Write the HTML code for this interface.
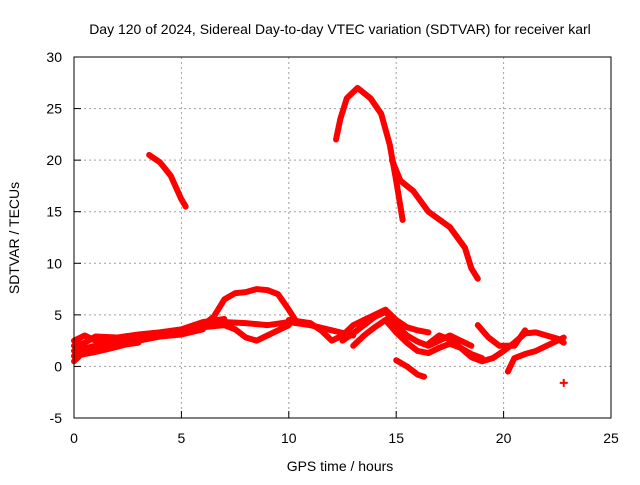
<!DOCTYPE html>
<html><head><meta charset="utf-8"><style>
body{margin:0;background:#fff}
svg text{font-family:"Liberation Sans",sans-serif;font-size:14px;fill:#000}
</style></head><body>
<svg id="chart" width="640" height="480">
<text x="340" y="34" text-anchor="middle">Day 120 of 2024, Sidereal Day-to-day VTEC variation (SDTVAR) for receiver karl</text>
<text x="340" y="471" text-anchor="middle">GPS time / hours</text>
<text transform="translate(19,238) rotate(-90)" text-anchor="middle">SDTVAR / TECUs</text>
<g id="grid"></g><g id="ticks"></g><g id="series"></g>
<rect x="74" y="57" width="537" height="361" fill="none" stroke="#000"/>
</svg>
<script>
const xTicks=[0,5,10,15,20,25];
const yTicks=[-5,0,5,10,15,20,25,30];
const trackA=[[3.5,20.5],[4,19.8],[4.5,18.5],[5,16.2],[5.2,15.5]];
const trackB=[[12.2,22],[12.4,24],[12.7,26],[13.2,27],[13.8,26],[14.3,24.5],[14.7,21.5],[15,18],[15.3,14.2]];
const trackC=[[14.8,20],[15.2,18],[15.8,17],[16.5,15],[17.5,13.5],[18.2,11.5],[18.5,9.5],[18.8,8.5]];
const trackD=[[5,3.3],[6,4],[6.5,4.8],[7,6.5],[7.5,7.1],[8,7.2],[8.5,7.5],[9,7.4],[9.5,7],[10,5.5],[10.3,4.5]];
const trackE=[[0,1.5],[1,2],[2,2.3],[3,2.7],[4,3],[5,3.3],[6,4],[7,4.3],[8,4.2],[9,4],[10,4.3],[11,4],[12,3.5],[13,3]];
const trackF=[[0,2.5],[0.5,3],[1,2.5],[2,2.5],[3,3],[4,3.2],[5,3.5],[6,3.8],[7,4]];
const trackG=[[0,0.5],[0.5,1.5],[1,1.8],[2,2],[3,2.3]];
const trackG2=[[0,1],[1,1.4],[2,1.9],[3,2.5],[4,2.9],[5,3.1],[6,3.6]];
const trackG3=[[0,2],[0.5,2.3],[1,2.9],[2,2.8],[3,3.1],[4,3.3],[5,3.6],[6,4.3],[7,4.6]];
const trackH=[[7,4],[7.5,3.6],[8,2.8],[8.5,2.5],[9,3],[9.5,3.5],[10,4]];
const trackI=[[10,4.5],[11,4.2],[11.5,3.5],[12,2.5],[12.5,3],[13,4],[13.5,4.5],[14,5],[14.5,5.5],[15,4.5],[15.5,3.8],[16,3.5],[16.5,3.3]];
const trackJ=[[12.5,2.5],[13,3.2],[13.5,4],[14,4.8],[14.5,5.3],[15,4],[15.5,3],[16,2.4],[16.5,2],[17,2.5],[17.5,3],[18,2.5],[18.5,2]];
const trackK=[[13,2],[13.5,3],[14,3.8],[14.5,4.5],[15,3.3],[15.5,2.3],[16,1.5],[16.5,1.3],[17,1.8],[17.5,2.2],[18,1.8],[18.5,0.9],[19,0.5],[19.5,0.8],[20,1.5],[20.5,2.3],[21,3.2],[21.5,3.3],[22,3],[22.5,2.7],[22.8,2.3]];
const trackL=[[15,0.6],[15.5,0],[16,-0.8],[16.3,-1]];
const trackM=[[16.5,2.2],[17,3],[17.5,2.6],[18,1.8],[18.5,1.2],[19,0.8]];
const trackN=[[18.8,4],[19.3,2.8],[19.8,2],[20.5,2],[21,3.5]];
const trackO=[[20.2,-0.5],[20.5,0.8],[21,1.2],[21.5,1.5],[22,2],[22.5,2.5],[22.8,2.8]];
const trackP=[[22.8,-1.6]];
const tracks=[trackA,trackB,trackC,trackD,trackE,trackF,trackG,trackG2,trackG3,trackH,trackI,trackJ,trackK,trackL,trackM,trackN,trackO,trackP];
const X=v=>74+v*537/25, Y=v=>418-(v+5)*361/35;
const NS="http://www.w3.org/2000/svg";
const grid=document.getElementById('grid'),ticks=document.getElementById('ticks'),ser=document.getElementById('series');
function mk(tag,at,parent){const e=document.createElementNS(NS,tag);for(const k in at)e.setAttribute(k,at[k]);parent.appendChild(e);return e;}
xTicks.forEach(t=>{
 const g=mk('line',{x1:X(t),x2:X(t),y1:57,y2:418,stroke:'#a0a0a0','stroke-dasharray':'2,3'},grid);
 
 
 const k=mk('line',{x1:X(t),x2:X(t),y1:418,y2:411,stroke:'#000'},ticks);
 
 
 const l=mk('text',{x:X(t),y:443,'text-anchor':'middle'},ticks);l.textContent=t;
 
 
});
yTicks.forEach(t=>{
 const g=mk('line',{x1:74,x2:611,y1:Y(t),y2:Y(t),stroke:'#a0a0a0','stroke-dasharray':'2,3'},grid);
 
 
 const k=mk('line',{x1:74,x2:81,y1:Y(t),y2:Y(t),stroke:'#000'},ticks);
 
 
 const l=mk('text',{x:62,y:Y(t)+5,'text-anchor':'end'},ticks);l.textContent=t;
 
 
});
tracks.forEach(tr=>{
 if(tr.length===1){
  const x=X(tr[0][0]),y=Y(tr[0][1]);
  const p=mk('path',{d:`M${x-4},${y}H${x+4}M${x},${y-4}V${y+4}`,stroke:'#f00','stroke-width':2},ser);
  
  
  return;
 }
 const p=mk('polyline',{points:tr.map(d=>X(d[0])+','+Y(d[1])).join(' '),fill:'none',stroke:'#f00','stroke-width':6,'stroke-linejoin':'round','stroke-linecap':'round'},ser);
 
 
});
</script>
</body></html>
